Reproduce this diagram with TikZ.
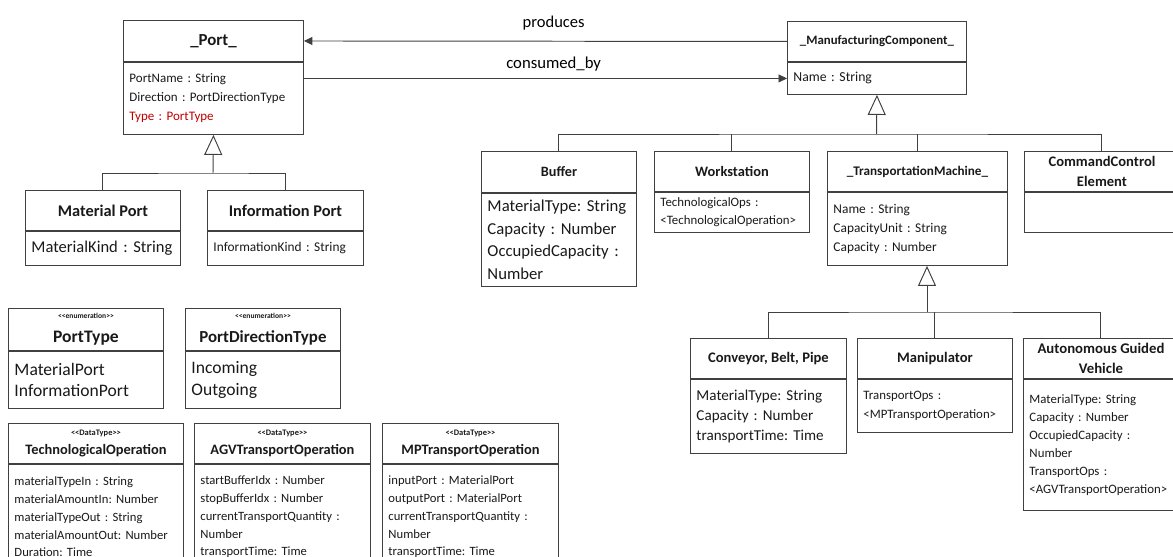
\documentclass[tikz,border=0pt]{standalone}
\usepackage{fontspec}
\setmainfont{Carlito}
\usetikzlibrary{arrows.meta}
\definecolor{umlline}{HTML}{404040}
\definecolor{umlred}{HTML}{C00000}
\newcommand{\fsz}[2]{\fontsize{#1}{#2}\selectfont}

\begin{document}
\frenchspacing
\begin{tikzpicture}[x=0.02cm,y=-0.02cm,
    box/.style={draw=umlline,line width=0.55pt,inner sep=0pt,text=black!90},
    hdr/.style={box,anchor=north west,align=center},
    attrs/.style={box,anchor=north,align=left,inner xsep=0.12cm},
    gen/.style={draw=umlline,line width=0.55pt,-{Triangle[open,length=0.4cm,width=0.36cm]}},
    assoc/.style={draw=umlline,line width=0.55pt,-{Triangle[length=0.17cm,width=0.16cm]}},
    link/.style={draw=umlline,line width=0.55pt}]
    \useasboundingbox (0,0) rectangle (1173,557);
    \clip (0,0) rectangle (1173,557);
    %% _Port_ and its subclasses
    \node[hdr,minimum width=3.6cm,minimum height=0.82cm,font={\fsz{9.6}{12}\bfseries}] (portH) at (123,20) {\_Port\_};
    \node[attrs,minimum height=1.44cm,text width=3.36cm,font={\fsz{7.4}{10.8}}] (portB) at (portH.south) {PortName : String\\Direction : PortDirectionType\\\textcolor{umlred}{Type : PortType}};
    \node[hdr,minimum width=3.1cm,minimum height=0.8cm,font={\fsz{9.3}{12}\bfseries}] (mpH) at (25,190) {Material Port};
    \node[attrs,minimum height=0.68cm,text width=2.86cm,font={\fsz{9.4}{12}}] (mpB) at (mpH.south) {MaterialKind : String};
    \node[hdr,minimum width=3.12cm,minimum height=0.8cm,font={\fsz{9.3}{12}\bfseries}] (ipH) at (207,190) {Information Port};
    \node[attrs,minimum height=0.68cm,text width=2.88cm,font={\fsz{7.6}{10.8}}] (ipB) at (ipH.south) {InformationKind : String};
    %% _ManufacturingComponent_ and its subclasses
    \node[hdr,minimum width=3.58cm,minimum height=0.8cm,font={\fsz{7.3}{10}\bfseries}] (mcH) at (787,21) {\_ManufacturingComponent\_};
    \node[attrs,minimum height=0.64cm,text width=3.34cm,font={\fsz{7.8}{10.8}}] (mcB) at (mcH.south) {Name : String};
    \node[hdr,minimum width=3.1cm,minimum height=0.82cm,font={\fsz{8.1}{11}\bfseries}] (bufH) at (481,151) {Buffer};
    \node[attrs,minimum height=1.86cm,text width=2.86cm,font={\fsz{9.5}{12.9}}] (bufB) at (bufH.south) {MaterialType: String\\Capacity : Number\\OccupiedCapacity :\\Number};
    \node[hdr,minimum width=3.1cm,minimum height=0.8cm,font={\fsz{8.2}{11}\bfseries}] (wsH) at (654,151) {Workstation};
    \node[attrs,minimum height=0.8cm,text width=2.86cm,font={\fsz{7.3}{10.4}}] (wsB) at (wsH.south) {TechnologicalOps :\\<TechnologicalOperation>};
    \node[hdr,minimum width=3.6cm,minimum height=0.8cm,font={\fsz{7.5}{10}\bfseries}] (tmH) at (827,151) {\_TransportationMachine\_};
    \node[attrs,minimum height=1.46cm,text width=3.36cm,font={\fsz{7.6}{11}}] (tmB) at (tmH.south) {Name : String\\CapacityUnit : String\\Capacity : Number};
    \node[hdr,minimum width=3.1cm,minimum height=0.8cm,font={\fsz{8.3}{11.3}\bfseries}] (cceH) at (1024,151) {CommandControl\\Element};
    \node[attrs,minimum height=0.8cm,text width=2.86cm] (cceB) at (cceH.south) {};
    %% _TransportationMachine_ subclasses
    \node[hdr,minimum width=3.12cm,minimum height=0.8cm,font={\fsz{8.3}{11}\bfseries}] (convH) at (690,338) {Conveyor, Belt, Pipe};
    \node[attrs,minimum height=1.48cm,text width=2.88cm,font={\fsz{8.6}{11.6}}] (convB) at (convH.south) {MaterialType: String\\Capacity : Number\\transportTime: Time};
    \node[hdr,minimum width=3.1cm,minimum height=0.8cm,font={\fsz{8.3}{11}\bfseries}] (manH) at (857,338) {Manipulator};
    \node[attrs,minimum height=1.06cm,text width=2.86cm,font={\fsz{7.3}{10.4}}] (manB) at (manH.south) {TransportOps :\\<MPTransportOperation>};
    \node[hdr,minimum width=3.1cm,minimum height=0.8cm,font={\fsz{8.4}{11.3}\bfseries}] (agvH) at (1023,338) {Autonomous Guided\\Vehicle};
    \node[attrs,minimum height=2.62cm,text width=2.86cm,font={\fsz{7.3}{10.2}}] (agvB) at (agvH.south) {MaterialType: String\\Capacity : Number\\OccupiedCapacity :\\Number\\TransportOps :\\<AGVTransportOperation>};
    %% enumerations
    \node[hdr,minimum width=3.1cm,minimum height=0.84cm,font={\fsz{10}{13.8}\bfseries}] (ptH) at (8,308) {{\fsz{4.3}{5}<{}<enumeration>{}>}\\PortType};
    \node[attrs,minimum height=1.14cm,text width=2.86cm,font={\fsz{10}{12.3}}] (ptB) at (ptH.south) {MaterialPort\\InformationPort};
    \node[hdr,minimum width=3.1cm,minimum height=0.84cm,font={\fsz{9.6}{13.8}\bfseries}] (pdH) at (185,308) {{\fsz{4.3}{5}<{}<enumeration>{}>}\\PortDirectionType};
    \node[attrs,minimum height=1.14cm,text width=2.86cm,font={\fsz{10}{12.3}}] (pdB) at (pdH.south) {Incoming\\Outgoing};
    %% data types
    \node[hdr,minimum width=3.5cm,minimum height=0.8cm,font={\fsz{8.2}{11}\bfseries}] (toH) at (8,423) {{\fsz{4.8}{5.5}<{}<DataType>{}>}\\TechnologicalOperation};
    \node[attrs,minimum height=2.1cm,text width=3.26cm,font={\fsz{7.2}{10.1}}] (toB) at (toH.south) {materialTypeIn : String\\materialAmountIn: Number\\materialTypeOut : String\\materialAmountOut: Number\\Duration: Time};
    \node[hdr,minimum width=3.52cm,minimum height=0.8cm,font={\fsz{8.2}{11}\bfseries}] (agvtoH) at (194,423) {{\fsz{4.8}{5.5}<{}<DataType>{}>}\\AGVTransportOperation};
    \node[attrs,minimum height=2.1cm,text width=3.28cm,font={\fsz{7.2}{10.1}}] (agvtoB) at (agvtoH.south) {startBufferIdx : Number\\stopBufferIdx : Number\\currentTransportQuantity :\\Number\\transportTime: Time};
    \node[hdr,minimum width=3.52cm,minimum height=0.8cm,font={\fsz{8.2}{11}\bfseries}] (mptoH) at (382,423) {{\fsz{4.8}{5.5}<{}<DataType>{}>}\\MPTransportOperation};
    \node[attrs,minimum height=2.1cm,text width=3.28cm,font={\fsz{7.2}{10.1}}] (mptoB) at (mptoH.south) {inputPort : MaterialPort\\outputPort : MaterialPort\\currentTransportQuantity :\\Number\\transportTime: Time};
    %% associations
    \draw[assoc] (mcH.west) -- (portH.east) node[pos=0.483,above=0.22cm,inner sep=0pt,font={\fsz{9.4}{11}}] {produces};
    \draw[assoc] (portB.east |- mcB.west) -- (mcB.west) node[pos=0.517,above=0.14cm,inner sep=0pt,font={\fsz{9.5}{11}}] {consumed\_by};
    %% generalizations
    \coordinate (portJ) at (213,173);
    \draw[gen] (portJ) -- (portB.south);
    \draw[link] (mpH.north) |- (portJ) -| (ipH.north);
    \coordinate (mcJ) at (876.5,134);
    \draw[gen] (mcJ) -- (mcB.south);
    \draw[link] (bufH.north) |- (mcJ) -| (cceH.north);
    \draw[link] (wsH.north) -- (wsH.north |- mcJ);
    \draw[link] (tmH.north) -- (tmH.north |- mcJ);
    \coordinate (tmJ) at (927,312);
    \draw[gen] (tmJ) -- (tmJ |- tmB.south);
    \draw[link] (convH.north) |- (tmJ) -| (agvH.north);
    \draw[link] (manH.north) -- (manH.north |- tmJ);
\end{tikzpicture}
\end{document}
